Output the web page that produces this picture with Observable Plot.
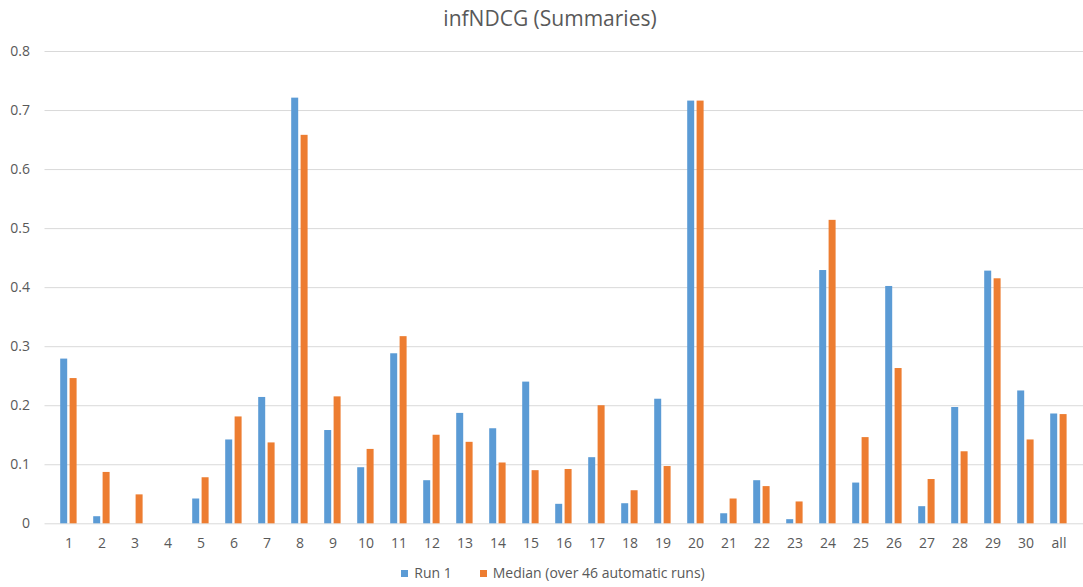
<!DOCTYPE html>
<html>
<head>
<meta charset="utf-8">
<script src="https://cdn.jsdelivr.net/npm/d3@7"></script>
<script src="https://cdn.jsdelivr.net/npm/@observablehq/plot@0.6"></script>
<style>
  html, body { margin: 0; padding: 0; background: #fff; width: 1083px; height: 587px; overflow: hidden; }
  body { position: relative; font-family: "Open Sans", "Noto Sans", sans-serif; color: #595959; }
  #title { position: absolute; left: 0; top: 4px; width: 1100px; text-align: center; font-size: 21px; color: #595959; }
  #chart { position: absolute; left: 0; top: 40px; }
  #legend { position: absolute; left: 0; top: 563px; width: 1106px; text-align: center; font-size: 14px; color: #595959; }
  .item { display: inline-block; margin: 0 14px; }
  .sw { display: inline-block; width: 7px; height: 7px; margin-right: 6px; vertical-align: 1px; }
</style>
</head>
<body>
<div id="title">infNDCG (Summaries)</div>
<div id="chart"></div>
<div id="legend"></div>
<script>
const categories = ["1","2","3","4","5","6","7","8","9","10","11","12","13","14","15","16","17","18","19","20","21","22","23","24","25","26","27","28","29","30","all"];
const run1 = [0.279,0.012,0,0,0.042,0.142,0.214,0.721,0.158,0.095,0.288,0.073,0.187,0.161,0.240,0.033,0.112,0.034,0.211,0.716,0.017,0.073,0.007,0.429,0.069,0.402,0.029,0.197,0.428,0.225,0.186];
const median = [0.246,0.087,0.049,0,0.078,0.181,0.137,0.658,0.215,0.126,0.317,0.150,0.138,0.103,0.090,0.092,0.200,0.056,0.097,0.716,0.042,0.063,0.037,0.514,0.146,0.263,0.075,0.122,0.415,0.142,0.185];
const seriesNames = ["Run 1", "Median (over 46 automatic runs)"];
const colors = ["#5B9BD5", "#ED7D31"];
const yTicks = [0, 0.1, 0.2, 0.3, 0.4, 0.5, 0.6, 0.7, 0.8];

const d1 = categories.map((c, i) => ({cat: c, value: run1[i]}));
const d2 = categories.map((c, i) => ({cat: c, value: median[i]}));

const chart = Plot.plot({
  width: 1083,
  height: 520,
  marginLeft: 44.5,
  marginRight: 0,
  marginTop: 11,
  marginBottom: 36.7,
  style: {fontFamily: "'Open Sans', 'Noto Sans', sans-serif", fontSize: "14px", color: "#595959", background: "transparent"},
  x: {domain: categories, padding: 0, label: null, tickSize: 0, tickPadding: 14},
  y: {domain: [0, 0.8], ticks: yTicks, label: null, tickSize: 0, tickPadding: 15, tickFormat: d => d === 0 ? "0" : d3.format(".1f")(d)},
  marks: [
    Plot.ruleY(yTicks, {stroke: "#D9D9D9", strokeWidth: 1}),
    Plot.barY(d1, {x: "cat", y: "value", fill: colors[0], insetLeft: 8.2, insetRight: 17.8}),
    Plot.barY(d2, {x: "cat", y: "value", fill: colors[1], insetLeft: 17.6, insetRight: 8.4})
  ]
});
document.getElementById("chart").appendChild(chart);

const legend = document.getElementById("legend");
seriesNames.forEach((name, i) => {
  const item = document.createElement("span");
  item.className = "item";
  const sw = document.createElement("span");
  sw.className = "sw";
  sw.style.background = colors[i];
  item.appendChild(sw);
  item.appendChild(document.createTextNode(name));
  legend.appendChild(item);
});
</script>
</body>
</html>
